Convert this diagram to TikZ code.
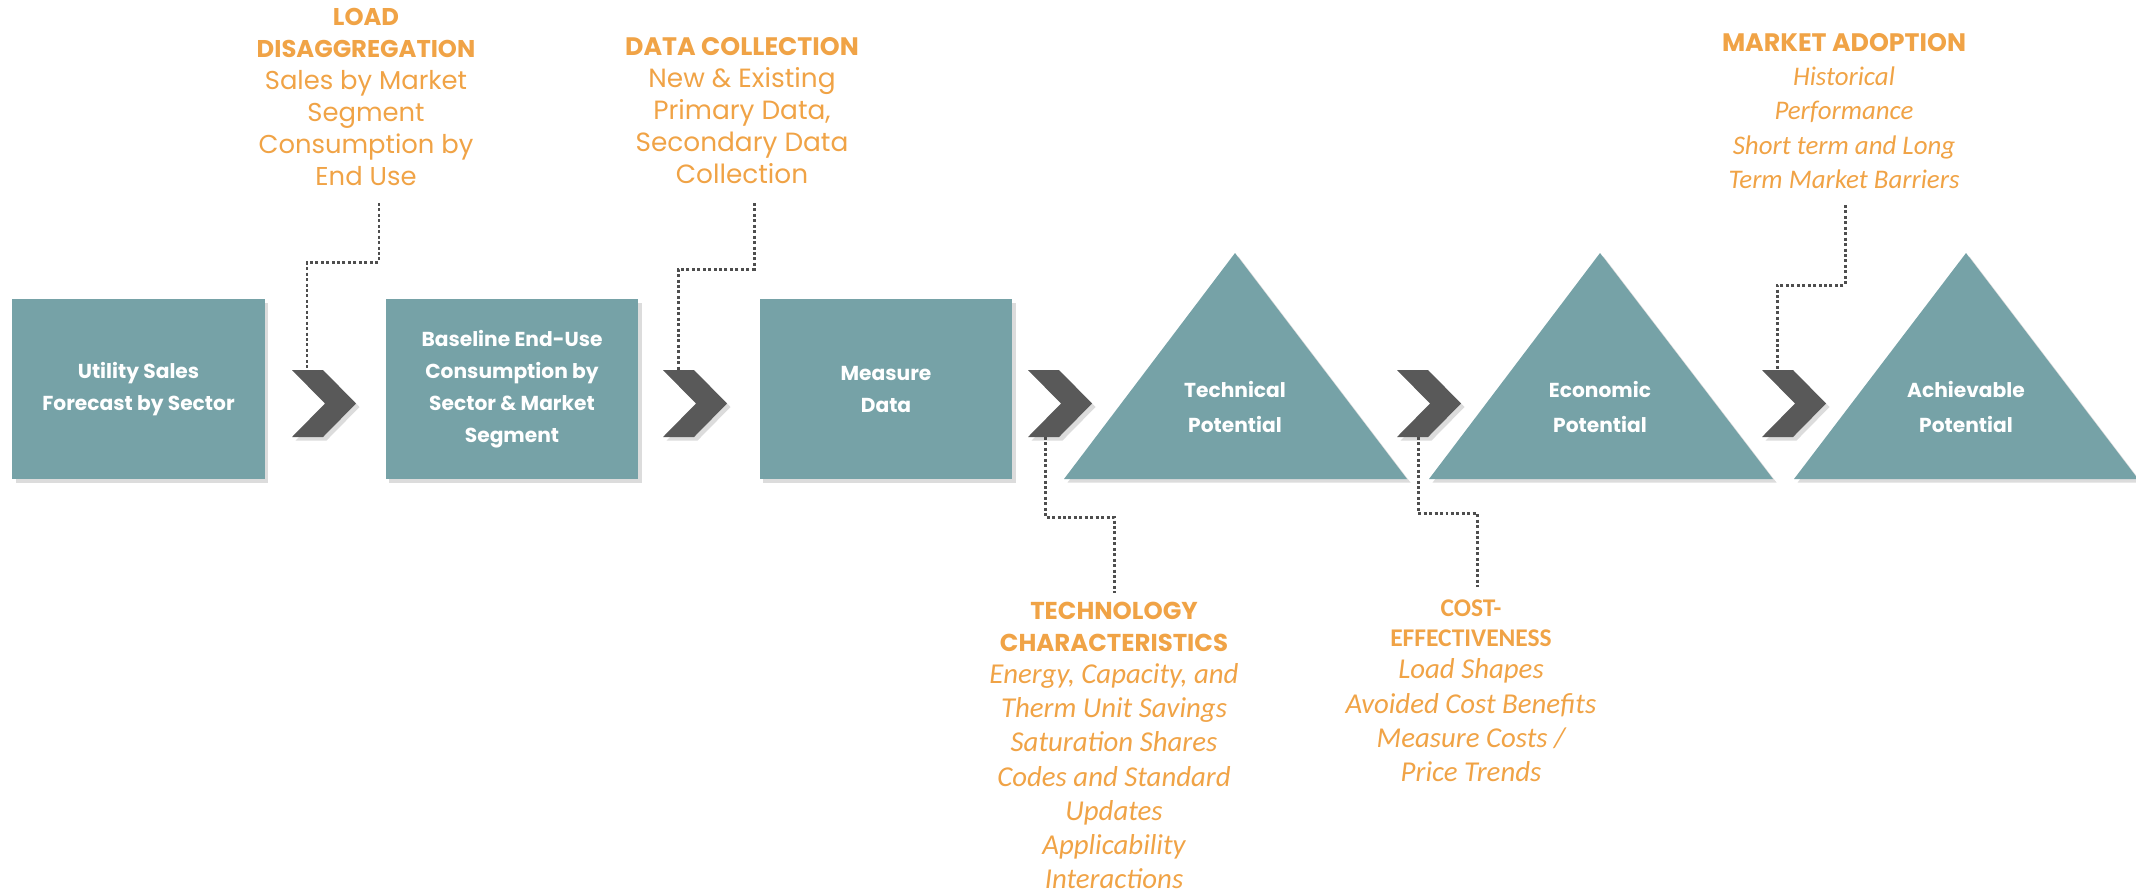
\documentclass[tikz,border=0pt]{standalone}
\usepackage{fontspec}
\setmainfont{Poppins}
\newfontfamily\calfont{Carlito}
\usetikzlibrary{shadows}
\definecolor{boxteal}{RGB}{118,162,167}
\definecolor{chevgray}{RGB}{89,89,89}
\definecolor{noteorange}{RGB}{240,163,70}
\definecolor{dotgray}{RGB}{78,78,78}
\begin{document}
\begin{tikzpicture}[x=0.02cm, y=-0.02cm,
  softshadow/.style={drop shadow={shadow xshift=2pt, shadow yshift=-2pt, opacity=0.28}},
  stage/.style={fill=boxteal, softshadow, text=white, minimum width=5.06cm, minimum height=3.6cm, inner sep=0pt, align=center, font=\bfseries\fontsize{11.5}{18.2}\selectfont},
  peak/.style={fill=boxteal, softshadow},
  peaklabel/.style={text=white, inner sep=0pt, align=center, font=\bfseries\fontsize{11.5}{19.5}\selectfont},
  chev/.style={fill=chevgray, softshadow},
  note/.style={text=noteorange, anchor=north, inner sep=0pt, align=center, font=\fontsize{14.7}{18.2}\selectfont},
  notei/.style={note, font=\calfont\itshape\fontsize{16.4}{19.5}\selectfont},
  dotline/.style={draw=dotgray, line width=1.7pt, dash pattern=on 1.7pt off 1.4pt}]
\useasboundingbox (0,0) rectangle (2136,894);

% process boxes
\node[stage] (sales) at (138.5,389) {Utility Sales\\Forecast by Sector};
\node[stage] (baseline) at (512,389) {Baseline End-Use\\Consumption by\\Sector \& Market\\Segment};
\node[stage] (measure) at (886,389) {Measure\\Data};

% potential triangles
\fill[peak] (1064,479) -- (1235,253) -- (1407,479) -- cycle;
\fill[peak] (1429,479) -- (1600,253) -- (1773,479) -- cycle;
\fill[peak] (1794,479) -- (1966,253) -- (2138,479) -- cycle;
\node[peaklabel] (techpot) at (1235,407) {Technical\\Potential};
\node[peaklabel] (econpot) at (1600,407) {Economic\\Potential};
\node[peaklabel] (achpot) at (1966,407) {Achievable\\Potential};

% chevrons
\foreach \x/\n/\a in {292/c1/307, 663/c2/678, 1028/c3/1045, 1397/c4/1418, 1762/c5/1777}{
  \fill[chev] (\x,370) -- ++(31,0) -- ++(33,33.5) -- ++(-33,33.5) -- ++(-31,0) -- ++(33,-33.5) -- cycle;
  \coordinate (\n-top) at (\a,370);
  \coordinate (\n-bot) at (\a,437);
}

% inputs above
\node[note] (load) at (366,8) {{\bfseries\fontsize{13.8}{18.2}\selectfont LOAD}\\{\bfseries\fontsize{13.8}{18.2}\selectfont DISAGGREGATION}\\Sales by Market\\Segment\\Consumption by\\End Use};
\node[note, font=\fontsize{15}{18.2}\selectfont] (datacoll) at (742,37) {{\bfseries\fontsize{14.4}{18.2}\selectfont DATA COLLECTION}\\New \& Existing\\Primary Data,\\Secondary Data\\Collection};
\node[notei, font=\calfont\itshape\fontsize{15.3}{19.7}\selectfont] (adoption) at (1844,33) {{\normalfont\bfseries\fontsize{14.4}{18.2}\selectfont MARKET ADOPTION}\\[-0.5pt]Historical\\Performance\\Short term and Long\\Term Market Barriers};

% inputs below
\node[notei] (techchar) at (1114,602) {{\normalfont\bfseries\fontsize{13.9}{18.2}\selectfont TECHNOLOGY}\\[-1.5pt]{\normalfont\bfseries\fontsize{13.9}{18.2}\selectfont CHARACTERISTICS}\\[-1.3pt]Energy, Capacity, and\\Therm Unit Savings\\Saturation Shares\\Codes and Standard\\Updates\\Applicability\\Interactions};
\node[notei] (costeff) at (1471,599) {{\bfseries\upshape\fontsize{14.5}{18.2}\selectfont COST-}\\[-2pt]{\bfseries\upshape\fontsize{14.5}{18.2}\selectfont EFFECTIVENESS}\\[-1.3pt]Load Shapes\\Avoided Cost Benefits\\Measure Costs /\\Price Trends};

\coordinate (load-end) at (379,203);
\coordinate (datacoll-end) at (754,203);
\coordinate (adoption-end) at (1845,205);
\coordinate (techchar-end) at (1114,593);
\coordinate (costeff-end) at (1477,587);

% dotted leaders
\draw[dotline] (load-end) -- ++(0,59) -| (c1-top);
\draw[dotline] (datacoll-end) -- ++(0,66) -| (c2-top);
\draw[dotline] (c3-bot) -- ++(0,80) -| (techchar-end);
\draw[dotline] (c4-bot) -- ++(0,76) -| (costeff-end);
\draw[dotline] (adoption-end) -- ++(0,80) -| (c5-top);
\end{tikzpicture}
\end{document}
